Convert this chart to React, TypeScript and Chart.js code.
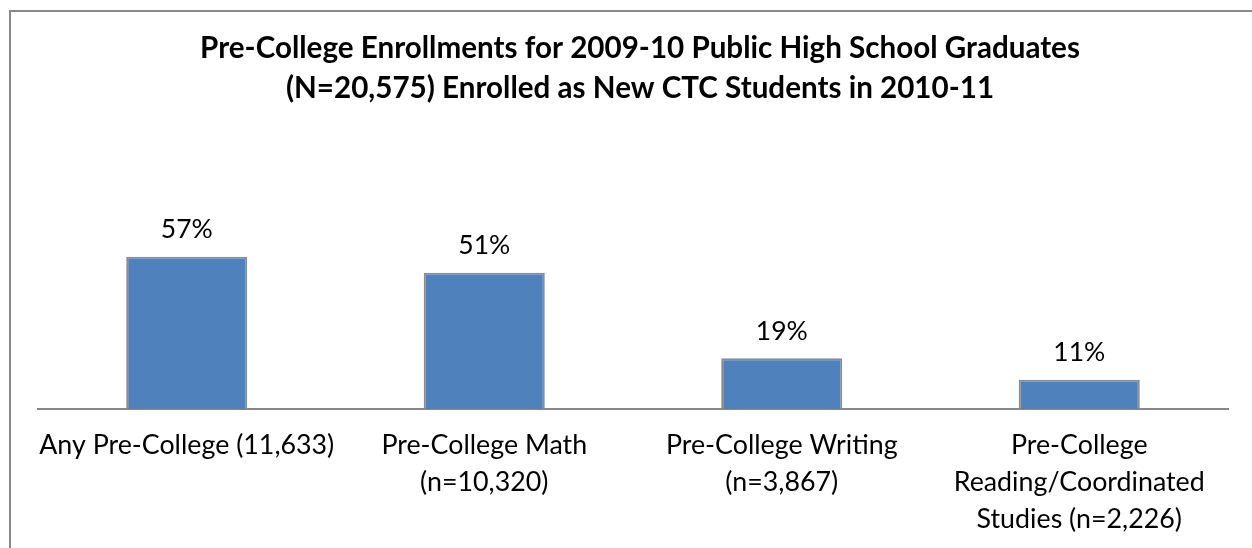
import React, { useEffect, useRef } from "react";
import { Chart, registerables } from "chart.js";

Chart.register(...registerables);

const titleLines: string[] = [
  "Pre-College Enrollments for 2009-10 Public High School Graduates",
  "(N=20,575) Enrolled as New CTC Students in 2010-11",
];

const categories: (string | string[])[] = [
  "Any Pre-College (11,633)",
  ["Pre-College Math", "(n=10,320)"],
  ["Pre-College Writing", "(n=3,867)"],
  ["Pre-College", "Reading/Coordinated", "Studies (n=2,226)"],
];

const percentValues: number[] = [57, 51, 19, 11];

const FONT = "Lato, 'Open Sans', sans-serif";
const CANVAS_W = 1280;
const CANVAS_H = 560;

export default function App() {
  const canvasRef = useRef<HTMLCanvasElement | null>(null);

  useEffect(() => {
    const canvas = canvasRef.current;
    if (!canvas) return;

    const titlePlugin = {
      id: "customTitle",
      afterDraw(chart: any) {
        const ctx = chart.ctx;
        ctx.save();
        ctx.fillStyle = "#000000";
        ctx.font = `bold 29.6px ${FONT}`;
        ctx.textAlign = "center";
        ctx.textBaseline = "middle";
        titleLines.forEach((line, i) => {
          ctx.fillText(line, chart.width / 2, 48 + i * 40);
        });
        ctx.restore();
      },
    };

    const valueLabels = {
      id: "valueLabels",
      afterDatasetsDraw(chart: any) {
        const ctx = chart.ctx;
        const meta = chart.getDatasetMeta(0);
        ctx.save();
        ctx.fillStyle = "#000000";
        ctx.font = `26.5px ${FONT}`;
        ctx.textAlign = "center";
        ctx.textBaseline = "middle";
        meta.data.forEach((bar: any, i: number) => {
          ctx.fillText(`${percentValues[i]}%`, bar.x, bar.y - 27);
        });
        ctx.restore();
      },
    };

    const chart = new Chart(canvas, {
      type: "bar",
      data: {
        labels: categories,
        datasets: [
          {
            data: percentValues,
            backgroundColor: "#4F81BD",
            borderColor: "#8C8C8C",
            borderWidth: 2,
            categoryPercentage: 1,
            barPercentage: 0.407,
          },
        ],
      },
      options: {
        responsive: false,
        animation: false,
        devicePixelRatio: 1,
        layout: {
          padding: { left: 38, right: 52, top: 142, bottom: 4 },
        },
        plugins: {
          legend: { display: false },
          title: { display: false },
          tooltip: { enabled: false },
        },
        scales: {
          x: {
            grid: { display: false, drawTicks: false },
            border: { display: true, color: "#878787", width: 2 },
            ticks: {
              color: "#000000",
              padding: 18,
              maxRotation: 0,
              autoSkip: false,
              font: { family: FONT, size: 26.8, lineHeight: 37 / 26.8 },
            },
          },
          y: {
            display: false,
            min: 0,
            max: 100,
          },
        },
      },
      plugins: [titlePlugin, valueLabels],
    });

    return () => {
      chart.destroy();
    };
  }, []);

  return (
    <div
      style={{
        position: "fixed",
        left: 0,
        top: 0,
        right: 0,
        bottom: 0,
        overflow: "hidden",
        background: "#ffffff",
      }}
    >
      <div
        style={{
          position: "absolute",
          left: 9,
          top: 10,
          width: 1300,
          height: 600,
          border: "2px solid #898989",
          boxSizing: "border-box",
        }}
      />
      <canvas
        ref={canvasRef}
        width={CANVAS_W}
        height={CANVAS_H}
        style={{ position: "absolute", left: 0, top: 0, width: CANVAS_W, height: CANVAS_H }}
      />
    </div>
  );
}
